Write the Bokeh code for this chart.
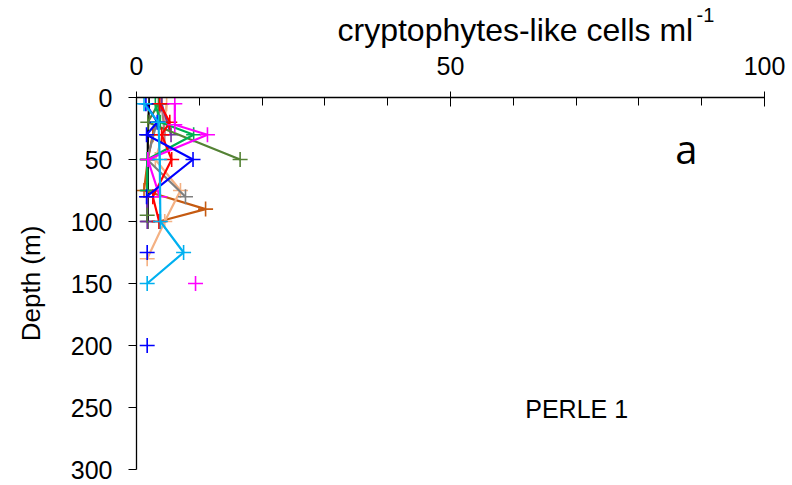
import math
from bokeh.plotting import figure
from bokeh.models import Range1d, FixedTicker, Label, Title
from bokeh.embed import file_html
from bokeh.resources import INLINE

nan = float("nan")

# ---- data (depth in m, cryptophytes-like cells ml-1) ----
black_depth = [5, 30, 50, 75, 100]
black_vals = [2.0, 1.8, 1.8, 1.8, 1.8]

red_depth = [5, 20, 30, 50, 80, 100]
red_vals = [3.7, 5.3, 4.0, 5.6, 2.6, 3.6]

magenta_depth = [5, 22, 30, 50, 80, nan, 150]
magenta_vals = [6.1, 6.1, 11.3, 1.8, 3.7, nan, 9.4]

green_depth = [5, 20, 30, 50, 75]
green_vals = [3.0, 3.8, 9.1, 1.7, 1.7]

olive_depth = [5, 20, 50, nan, 95]
olive_vals = [3.5, 1.8, 16.5, nan, 1.7]

blue_depth = [5, 20, 30, 50, 80, nan, 125, nan, 200]
blue_vals = [1.5, 3.3, 1.6, 9.0, 1.6, nan, 1.7, nan, 1.7]

cyan_depth = [5, 20, 50, 100, 125, 150]
cyan_vals = [1.2, 3.5, 3.7, 3.8, 7.5, 1.7]

brown_depth = [5, 30, 50, 75, 90, 100]
brown_vals = [4.0, 2.6, 1.8, 1.2, 11.0, 3.6]

peach_depth = [5, 30, 50, 75, 100, 130]
peach_vals = [4.8, 4.2, 3.0, 7.0, 4.5, 1.7]

gray_depth = [5, 50, 80]
gray_vals = [4.0, 1.7, 7.8]

purple_depth = [5, 30, nan, 80, 100]
purple_vals = [4.0, 5.5, nan, 1.7, 1.7]

rosy_depth = [5, 30]
rosy_vals = [4.0, 4.5]

series = [
    ("black", "#000000", black_vals, black_depth),
    ("brown", "#c55a11", brown_vals, brown_depth),
    ("peach", "#f4b183", peach_vals, peach_depth),
    ("gray", "#808080", gray_vals, gray_depth),
    ("rosy", "#b07a80", rosy_vals, rosy_depth),
    ("purple", "#7030a0", purple_vals, purple_depth),
    ("olive", "#548235", olive_vals, olive_depth),
    ("green", "#00b050", green_vals, green_depth),
    ("red", "#ff0000", red_vals, red_depth),
    ("magenta", "#ff00ff", magenta_vals, magenta_depth),
    ("blue", "#0000ff", blue_vals, blue_depth),
    ("cyan", "#00b0f0", cyan_vals, cyan_depth),
]

x_ticks = [0, 50, 100]
x_minor = [10, 20, 30, 40, 60, 70, 80, 90]
y_ticks = [0, 50, 100, 150, 200, 250, 300]

FONT = "Liberation Sans"

p = figure(width=790, height=483, output_backend="svg", toolbar_location=None,
           x_range=Range1d(0, 100), y_range=Range1d(300, 0),
           x_axis_location="above",
           min_border_left=136, min_border_right=26,
           min_border_top=97, min_border_bottom=14)
p.outline_line_color = None
p.xgrid.visible = False
p.ygrid.visible = False
p.background_fill_color = "white"
p.border_fill_color = "white"

xa = p.xaxis[0]
xa.ticker = FixedTicker(ticks=x_ticks, minor_ticks=x_minor)
xa.major_tick_in = 9
xa.major_tick_out = 6
xa.minor_tick_in = 8
xa.minor_tick_out = 0
xa.major_label_standoff = 17
xa.major_label_text_font = FONT
xa.major_label_text_font_size = "25px"
xa.major_label_text_color = "black"
xa.axis_line_color = "black"
xa.axis_line_width = 1.3
xa.major_tick_line_color = "black"
xa.minor_tick_line_color = "black"

ya = p.yaxis[0]
ya.ticker = FixedTicker(ticks=y_ticks, minor_ticks=[])
ya.major_tick_in = 0
ya.major_tick_out = 8
ya.minor_tick_in = 0
ya.minor_tick_out = 0
ya.major_label_standoff = 16
ya.major_label_text_font = FONT
ya.major_label_text_font_size = "25px"
ya.major_label_text_color = "black"
ya.axis_line_color = "black"
ya.axis_line_width = 1.3
ya.major_tick_line_color = "black"
ya.axis_label = "Depth (m)"
ya.axis_label_text_font = FONT
ya.axis_label_text_font_size = "26px"
ya.axis_label_text_font_style = "normal"
ya.axis_label_text_color = "black"
ya.axis_label_standoff = 22

for name, color, vals, depth in series:
    p.line(vals, depth, line_color=color, line_width=2.2)
    p.scatter(vals, depth, marker="cross", size=15, line_color=color, line_width=1.6)

# x-axis title (placed above the top axis) with superscript
t_main = Title(text="cryptophytes-like cells ml", align="left", offset=201,
               text_font=FONT, text_font_size="32px", text_font_style="normal",
               text_color="black", standoff=12)
t_sup = Title(text="-1", align="left", offset=560,
              text_font=FONT, text_font_size="20px", text_font_style="normal",
              text_color="black", standoff=-37)
p.add_layout(t_main, "above")
p.add_layout(t_sup, "above")

p.add_layout(Label(x=85.8, y=41, text="a",
                   text_align="left", text_baseline="alphabetic",
                   text_font="Open Sans", text_font_size="40px", text_color="black"))
p.add_layout(Label(x=61.9, y=251, text="PERLE 1",
                   text_align="left", text_baseline="alphabetic",
                   text_font=FONT, text_font_size="25px", text_color="black"))

open("out.html", "w").write(file_html(p, INLINE))
